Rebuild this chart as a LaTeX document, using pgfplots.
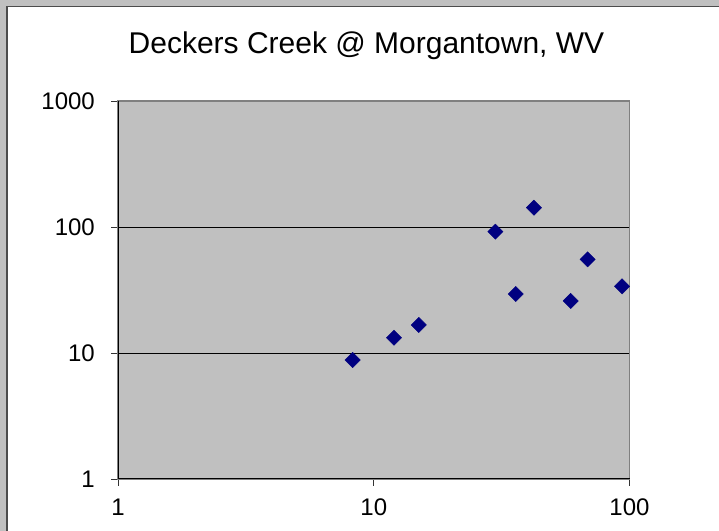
\documentclass[border=0pt]{standalone}
\usepackage{pgfplots}
\pgfplotsset{compat=1.18}
\usepackage{fontspec}
\setmainfont{Liberation Sans}
\definecolor{plotgray}{HTML}{C0C0C0}
\definecolor{bordergray}{HTML}{808080}
\definecolor{navyblue}{HTML}{000080}
\begin{document}
\begin{tikzpicture}[x=1bp,y=1bp]
\path[use as bounding box] (0,0) rectangle (719,531);
\fill[plotgray] (0,0) rectangle (719,531);
\begin{scope}
\clip (0,0) rectangle (719,531);
\filldraw[fill=white, draw=black!70, line width=1.5bp] (6.75,-10) rectangle (740,524.25);
\end{scope}
\node[anchor=base, font=\fontsize{30bp}{35bp}\selectfont, inner sep=0pt] at (366.5,477) {Deckers Creek @ Morgantown, WV};
\begin{axis}[
  at={(118bp,52bp)}, anchor=south west, scale only axis,
  width=511.5bp, height=378bp,
  xmode=log, ymode=log, xmin=1, xmax=100, ymin=1, ymax=1000,
  axis background/.style={fill=plotgray},
  axis line style={draw=bordergray, line width=1.5bp},
  ymajorgrids, major grid style={black, line width=0.8bp},
  xtick={1,10,100}, xticklabels={1,10,100},
  ytick={1,10,100,1000}, yticklabels={1,10,100,1000},
  xminorticks=false, yminorticks=false,
  tick align=outside, xtick pos=bottom, ytick pos=left, major tick length=7bp,
  tick style={black!80, line width=0.8bp},
  /pgf/number format/assume math mode=true,
  ticklabel style={font=\fontsize{24bp}{28bp}\selectfont, inner sep=0pt},
  yticklabel style={anchor=east, xshift=-16bp},
  xticklabel style={anchor=north, yshift=-13bp},
  clip=false,
  extra description/.code={\draw[black, line width=1bp] (rel axis cs:0,1) -- (rel axis cs:0,0) -- (rel axis cs:1,0);},
]
\addplot[only marks, mark=square*, mark size=5.4bp, mark options={rotate=45, fill=navyblue, draw=navyblue}] coordinates {
(8.27,8.8) (12.0,13.2) (15.0,16.7) (29.9,91.8) (42.3,142.3) (35.9,29.4) (58.9,25.9) (68.6,55.4) (93.5,33.8)
};
\end{axis}
\end{tikzpicture}
\end{document}
